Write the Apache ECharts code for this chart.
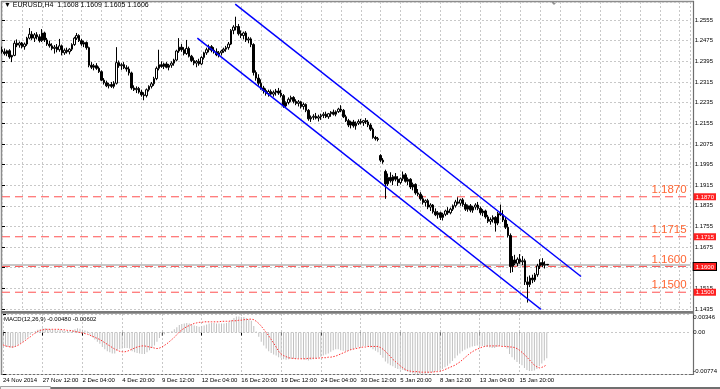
<!DOCTYPE html>
<html><head><meta charset="utf-8">
<script src="https://cdn.jsdelivr.net/npm/echarts@6/dist/echarts.min.js"></script>
<style>html,body{margin:0;padding:0;background:#fff}#c{width:720px;height:389px}</style>
</head><body><div id="c"></div>
<script>
// [open, high, low, close] per H4 bar
const bars = [
[1.2440,1.2452,1.2425,1.2432],[1.2432,1.2445,1.2418,1.2425],[1.2425,1.2440,1.2415,1.2436],[1.2436,1.2442,1.2405,1.2412],[1.2412,1.2420,1.2392,1.2418],
[1.2418,1.2475,1.2415,1.2465],[1.2465,1.2480,1.2450,1.2458],[1.2458,1.2472,1.2448,1.2466],[1.2466,1.2470,1.2445,1.2452],[1.2452,1.2468,1.2440,1.2462],
[1.2462,1.2490,1.2455,1.2485],[1.2485,1.2524,1.2480,1.2500],[1.2500,1.2512,1.2478,1.2485],[1.2485,1.2505,1.2470,1.2498],[1.2498,1.2508,1.2480,1.2490],
[1.2490,1.2500,1.2468,1.2475],[1.2475,1.2520,1.2470,1.2505],[1.2505,1.2510,1.2470,1.2478],[1.2478,1.2486,1.2455,1.2462],[1.2462,1.2475,1.2448,1.2455],
[1.2455,1.2465,1.2438,1.2445],[1.2445,1.2458,1.2425,1.2450],[1.2450,1.2462,1.2430,1.2440],[1.2440,1.2482,1.2432,1.2455],[1.2455,1.2460,1.2418,1.2428],
[1.2428,1.2445,1.2420,1.2438],[1.2438,1.2448,1.2425,1.2432],[1.2432,1.2446,1.2422,1.2442],[1.2442,1.2465,1.2435,1.2460],[1.2460,1.2490,1.2455,1.2485],
[1.2485,1.2505,1.2478,1.2495],[1.2495,1.2500,1.2470,1.2475],[1.2475,1.2482,1.2455,1.2462],[1.2462,1.2475,1.2450,1.2468],[1.2468,1.2472,1.2440,1.2448],
[1.2448,1.2452,1.2372,1.2380],[1.2380,1.2392,1.2365,1.2372],[1.2372,1.2385,1.2360,1.2378],[1.2378,1.2388,1.2362,1.2368],[1.2368,1.2375,1.2350,1.2355],
[1.2355,1.2360,1.2318,1.2322],[1.2322,1.2330,1.2305,1.2312],[1.2312,1.2320,1.2295,1.2300],[1.2300,1.2312,1.2290,1.2305],[1.2305,1.2315,1.2292,1.2298],
[1.2298,1.2318,1.2290,1.2310],[1.2310,1.2450,1.2305,1.2390],[1.2390,1.2398,1.2370,1.2378],[1.2378,1.2388,1.2362,1.2382],[1.2382,1.2392,1.2365,1.2370],
[1.2370,1.2380,1.2355,1.2365],[1.2365,1.2375,1.2340,1.2350],[1.2350,1.2355,1.2285,1.2292],[1.2292,1.2302,1.2280,1.2285],[1.2285,1.2298,1.2272,1.2290],
[1.2290,1.2296,1.2270,1.2276],[1.2276,1.2285,1.2258,1.2265],[1.2265,1.2275,1.2244,1.2262],[1.2262,1.2290,1.2255,1.2285],[1.2285,1.2302,1.2278,1.2298],
[1.2298,1.2315,1.2290,1.2308],[1.2308,1.2335,1.2300,1.2328],[1.2328,1.2375,1.2322,1.2368],[1.2368,1.2440,1.2360,1.2382],[1.2382,1.2395,1.2370,1.2375],
[1.2375,1.2390,1.2365,1.2385],[1.2385,1.2392,1.2368,1.2372],[1.2372,1.2385,1.2360,1.2380],[1.2380,1.2395,1.2370,1.2388],[1.2388,1.2405,1.2378,1.2400],
[1.2400,1.2440,1.2395,1.2435],[1.2435,1.2485,1.2428,1.2450],[1.2450,1.2462,1.2432,1.2440],[1.2440,1.2450,1.2418,1.2425],[1.2425,1.2478,1.2420,1.2445],
[1.2445,1.2452,1.2410,1.2415],[1.2415,1.2420,1.2392,1.2398],[1.2398,1.2410,1.2380,1.2388],[1.2388,1.2400,1.2372,1.2395],[1.2395,1.2405,1.2378,1.2385],
[1.2385,1.2415,1.2380,1.2410],[1.2410,1.2432,1.2402,1.2428],[1.2428,1.2448,1.2420,1.2440],[1.2440,1.2460,1.2430,1.2452],[1.2452,1.2458,1.2430,1.2438],
[1.2438,1.2450,1.2425,1.2432],[1.2432,1.2445,1.2415,1.2420],[1.2420,1.2435,1.2410,1.2428],[1.2428,1.2440,1.2418,1.2435],[1.2435,1.2448,1.2428,1.2442],
[1.2442,1.2455,1.2432,1.2448],[1.2448,1.2470,1.2440,1.2462],[1.2462,1.2520,1.2458,1.2515],[1.2515,1.2535,1.2500,1.2528],[1.2528,1.2568,1.2515,1.2530],
[1.2530,1.2540,1.2495,1.2502],[1.2502,1.2515,1.2485,1.2495],[1.2495,1.2510,1.2480,1.2505],[1.2505,1.2512,1.2470,1.2478],[1.2478,1.2490,1.2465,1.2482],
[1.2482,1.2488,1.2450,1.2460],[1.2460,1.2465,1.2340,1.2352],[1.2352,1.2360,1.2320,1.2330],[1.2330,1.2345,1.2300,1.2310],[1.2310,1.2325,1.2285,1.2292],
[1.2292,1.2300,1.2270,1.2282],[1.2282,1.2290,1.2262,1.2270],[1.2270,1.2285,1.2258,1.2278],[1.2278,1.2286,1.2262,1.2268],[1.2268,1.2282,1.2258,1.2275],
[1.2275,1.2288,1.2262,1.2280],[1.2280,1.2292,1.2265,1.2272],[1.2272,1.2285,1.2255,1.2262],[1.2262,1.2268,1.2215,1.2222],[1.2222,1.2240,1.2218,1.2235],
[1.2235,1.2255,1.2228,1.2248],[1.2248,1.2262,1.2238,1.2255],[1.2255,1.2260,1.2232,1.2240],[1.2240,1.2248,1.2225,1.2232],[1.2232,1.2245,1.2220,1.2238],
[1.2238,1.2242,1.2212,1.2220],[1.2220,1.2235,1.2208,1.2228],[1.2228,1.2232,1.2198,1.2205],[1.2205,1.2210,1.2165,1.2172],[1.2172,1.2185,1.2160,1.2178],
[1.2178,1.2190,1.2168,1.2182],[1.2182,1.2195,1.2170,1.2175],[1.2175,1.2188,1.2162,1.2180],[1.2180,1.2192,1.2168,1.2185],[1.2185,1.2198,1.2175,1.2190],
[1.2190,1.2200,1.2175,1.2180],[1.2180,1.2195,1.2172,1.2192],[1.2192,1.2202,1.2180,1.2198],[1.2198,1.2208,1.2185,1.2190],[1.2190,1.2205,1.2182,1.2200],
[1.2200,1.2215,1.2195,1.2210],[1.2210,1.2225,1.2198,1.2205],[1.2205,1.2210,1.2175,1.2180],[1.2180,1.2188,1.2160,1.2165],[1.2165,1.2172,1.2140,1.2148],
[1.2148,1.2165,1.2135,1.2160],[1.2160,1.2168,1.2138,1.2145],[1.2145,1.2162,1.2130,1.2155],[1.2155,1.2170,1.2148,1.2162],[1.2162,1.2172,1.2150,1.2158],
[1.2158,1.2168,1.2145,1.2165],[1.2165,1.2175,1.2152,1.2160],[1.2160,1.2168,1.2140,1.2148],[1.2148,1.2155,1.2125,1.2132],[1.2132,1.2138,1.2095,1.2100],
[1.2100,1.2106,1.2088,1.2095],[1.2095,1.2102,1.2085,1.2092],[1.2030,1.2035,1.2005,1.2012],[1.2012,1.2020,1.1998,1.2005],[1.1968,1.1975,1.1862,1.1920],
[1.1920,1.1960,1.1912,1.1945],[1.1945,1.1965,1.1925,1.1932],[1.1932,1.1955,1.1915,1.1948],[1.1948,1.1962,1.1930,1.1938],[1.1938,1.1950,1.1912,1.1925],
[1.1925,1.1945,1.1918,1.1940],[1.1940,1.1968,1.1932,1.1955],[1.1955,1.1962,1.1925,1.1930],[1.1930,1.1945,1.1915,1.1938],[1.1938,1.1942,1.1900,1.1908],
[1.1908,1.1925,1.1895,1.1918],[1.1918,1.1922,1.1878,1.1885],[1.1885,1.1900,1.1872,1.1880],[1.1880,1.1888,1.1855,1.1862],[1.1862,1.1875,1.1840,1.1848],
[1.1848,1.1860,1.1832,1.1855],[1.1855,1.1862,1.1822,1.1830],[1.1830,1.1845,1.1815,1.1838],[1.1838,1.1842,1.1805,1.1812],[1.1812,1.1825,1.1795,1.1800],
[1.1800,1.1815,1.1785,1.1808],[1.1808,1.1812,1.1780,1.1790],[1.1790,1.1808,1.1778,1.1802],[1.1802,1.1820,1.1795,1.1815],[1.1815,1.1830,1.1800,1.1808],
[1.1808,1.1828,1.1802,1.1822],[1.1822,1.1840,1.1815,1.1835],[1.1835,1.1858,1.1828,1.1850],[1.1850,1.1868,1.1840,1.1845],[1.1845,1.1862,1.1835,1.1858],
[1.1858,1.1865,1.1832,1.1840],[1.1840,1.1848,1.1815,1.1822],[1.1822,1.1840,1.1812,1.1835],[1.1835,1.1842,1.1810,1.1818],[1.1818,1.1835,1.1808,1.1830],
[1.1830,1.1845,1.1820,1.1838],[1.1838,1.1850,1.1818,1.1825],[1.1825,1.1832,1.1800,1.1808],[1.1808,1.1822,1.1795,1.1815],[1.1815,1.1820,1.1785,1.1792],
[1.1792,1.1800,1.1768,1.1775],[1.1775,1.1790,1.1762,1.1782],[1.1782,1.1798,1.1770,1.1790],[1.1790,1.1795,1.1735,1.1768],[1.1768,1.1812,1.1760,1.1805],
[1.1805,1.1840,1.1795,1.1800],[1.1800,1.1818,1.1772,1.1780],[1.1780,1.1792,1.1745,1.1752],[1.1752,1.1765,1.1712,1.1720],[1.1720,1.1728,1.1575,1.1600],
[1.1600,1.1640,1.1578,1.1625],[1.1625,1.1645,1.1605,1.1612],[1.1612,1.1635,1.1600,1.1628],[1.1628,1.1648,1.1610,1.1618],[1.1618,1.1640,1.1605,1.1622],
[1.1622,1.1630,1.1528,1.1540],[1.1540,1.1560,1.1460,1.1530],[1.1530,1.1565,1.1520,1.1555],[1.1555,1.1568,1.1535,1.1548],[1.1548,1.1575,1.1540,1.1568],
[1.1568,1.1610,1.1560,1.1602],[1.1602,1.1628,1.1590,1.1615],[1.1615,1.1632,1.1598,1.1605],[1.1605,1.1620,1.1592,1.1608],[1.1608,1.1609,1.1605,1.1606]
];
const macd = [
-0.0024,-0.0026,-0.0027,-0.0028,-0.0029,-0.0026,-0.0023,-0.0020,-0.0017,-0.0013,-0.0009,-0.0004,
0.0000,0.0003,0.0005,0.0006,0.0008,0.0008,0.0007,0.0006,0.0005,0.0005,0.0004,0.0005,0.0004,0.0003,0.0003,0.0003,0.0004,0.0006,0.0008,0.0007,
0.0005,0.0004,0.0002,-0.0004,-0.0009,-0.0013,-0.0017,-0.0021,
-0.0027,-0.0031,-0.0035,-0.0037,-0.0039,-0.0039,-0.0033,-0.0031,
-0.0030,-0.0029,-0.0029,-0.0030,-0.0035,-0.0037,-0.0038,-0.0039,-0.0040,-0.0040,-0.0037,-0.0033,-0.0029,-0.0024,-0.0017,-0.0010,
-0.0006,-0.0003,-0.0001,0.0001,0.0003,0.0006,0.0010,0.0014,
0.0016,0.0017,0.0018,0.0017,0.0015,0.0013,0.0012,0.0011,0.0012,0.0013,0.0015,0.0017,0.0018,0.0018,0.0017,0.0017,0.0017,0.0017,0.0018,0.0019,0.0023,0.0027,0.0030,0.0030,0.0029,0.0029,0.0027,0.0025,0.0022,
0.0012,0.0002,-0.0008,-0.0017,-0.0024,-0.0030,-0.0035,-0.0038,-0.0041,-0.0043,
-0.0046,-0.0047,-0.0050,-0.0051,-0.0050,-0.0049,-0.0049,-0.0049,-0.0048,-0.0049,-0.0050,-0.0051,-0.0052,-0.0051,-0.0050,-0.0049,-0.0047,-0.0045,-0.0043,-0.0041,-0.0039,-0.0036,-0.0033,-0.0031,-0.0031,-0.0033,-0.0034,-0.0035,-0.0034,-0.0033,-0.0031,-0.0029,
-0.0027,-0.0026,-0.0025,-0.0025,-0.0026,-0.0028,-0.0031,-0.0034,-0.0037,
-0.0042,-0.0047,-0.0054,-0.0058,-0.0061,-0.0063,-0.0066,-0.0068,
-0.0069,-0.0070,-0.0072,-0.0073,-0.0075,-0.0076,-0.0077,-0.0078,-0.0078,-0.0077,-0.0077,-0.0076,-0.0075,-0.0074,-0.0073,-0.0072,-0.0070,-0.0068,-0.0065,-0.0062,-0.0058,-0.0053,-0.0048,-0.0043,
-0.0039,-0.0035,-0.0032,-0.0030,-0.0028,-0.0026,-0.0025,-0.0024,-0.0025,-0.0025,-0.0026,-0.0027,-0.0028,-0.0029,-0.0029,-0.0027,-0.0025,-0.0025,-0.0026,-0.0030,
-0.0040,-0.0046,-0.0051,-0.0055,-0.0058,-0.0061,-0.0066,-0.0070,-0.0072,-0.0072,-0.0071,-0.0068,-0.0063,-0.0058,-0.0052,-0.0048
];
const signal = [
-0.0023,-0.0025,-0.0026,-0.0027,-0.0027,-0.0026,-0.0024,-0.0021,-0.0018,-0.0015,-0.0011,-0.0008,-0.0004,-0.0001,0.0002,0.0004,
0.0005,0.0006,0.0006,0.0006,0.0006,0.0006,0.0006,0.0006,0.0005,0.0005,0.0004,0.0004,0.0003,0.0002,0.0001,0.0000,
-0.0001,-0.0002,-0.0003,-0.0005,-0.0007,-0.0009,-0.0011,-0.0013,-0.0016,-0.0019,-0.0022,-0.0025,-0.0028,-0.0031,-0.0033,-0.0035,
-0.0036,-0.0036,-0.0035,-0.0033,-0.0031,-0.0029,-0.0027,-0.0026,-0.0025,-0.0025,-0.0026,-0.0027,-0.0028,-0.0029,-0.0030,-0.0029,
-0.0027,-0.0024,-0.0021,-0.0017,-0.0013,-0.0009,-0.0004,0.0001,0.0005,0.0008,0.0011,0.0013,0.0015,0.0017,0.0018,0.0019,
0.0019,0.0020,0.0020,0.0020,0.0020,0.0020,0.0020,0.0020,0.0021,0.0021,0.0021,0.0021,0.0022,0.0022,0.0022,0.0023,0.0023,0.0024,0.0024,0.0025,0.0025,0.0024,0.0021,0.0017,
0.0012,0.0006,0.0000,-0.0006,-0.0013,-0.0020,-0.0027,-0.0035,
-0.0040,-0.0043,-0.0045,-0.0047,-0.0048,-0.0048,-0.0049,-0.0049,-0.0049,-0.0049,-0.0049,-0.0048,
-0.0048,-0.0048,-0.0048,-0.0048,-0.0047,-0.0047,-0.0047,-0.0046,-0.0046,-0.0045,-0.0044,-0.0042,-0.0040,-0.0038,-0.0036,-0.0034,-0.0032,-0.0031,-0.0030,-0.0029,
-0.0028,-0.0027,-0.0027,-0.0026,-0.0026,-0.0026,-0.0026,-0.0026,-0.0028,-0.0031,-0.0035,-0.0040,-0.0045,-0.0050,-0.0054,-0.0058,
-0.0062,-0.0066,-0.0069,-0.0071,-0.0072,-0.0073,-0.0073,-0.0073,-0.0074,-0.0074,-0.0074,-0.0074,-0.0074,-0.0074,-0.0073,-0.0073,-0.0072,-0.0071,-0.0069,-0.0067,-0.0065,-0.0063,-0.0061,-0.0058,
-0.0055,-0.0051,-0.0047,-0.0043,-0.0039,-0.0036,-0.0033,-0.0031,-0.0029,-0.0027,-0.0026,-0.0025,-0.0025,-0.0025,-0.0025,-0.0025,-0.0025,-0.0026,-0.0026,-0.0026,
-0.0027,-0.0027,-0.0028,-0.0030,-0.0033,-0.0037,-0.0041,-0.0046,-0.0051,-0.0056,-0.0061,-0.0064,-0.0066,-0.0065,-0.0063,-0.0060
];
const xLabels = ['24 Nov 2014','27 Nov 12:00','2 Dec 04:00','4 Dec 20:00','9 Dec 12:00','12 Dec 04:00','16 Dec 20:00','19 Dec 12:00','24 Dec 04:00','30 Dec 12:00','5 Jan 20:00','8 Jan 12:00','13 Jan 04:00','15 Jan 20:00'];
const levels = [1.1870, 1.1715, 1.1600, 1.1500];
const bidPrice = 1.1606;
const upperChannel = [[93.6, 1.2617], [232.4, 1.1561]];
const lowerChannel = [[78.4, 1.2485], [216.4, 1.1433]];
const titleText = '▼ EURUSD,H4  1.1608 1.1609 1.1605 1.1606';
const macdTitle = 'MACD(12,26,9) -0.00480 -0.00602';
const priceMin = 1.1435, priceMax = 1.2625, priceStep = 0.008;
const macdMin = -0.00774, macdMax = 0.00346;

const FONT = 'Liberation Sans';
const XMAX = 276.4;
const chart = echarts.init(document.getElementById('c'), null, {renderer: 'canvas'});
const candleData = bars.map((b, i) => [i, b[0], b[3], b[2], b[1]]);
const macdData = macd.map((v, i) => [i, v]);
const sigData = signal.map((v, i) => [i, v]);
const labelTicks = xLabels.map((s, k) => k * 16);
const dotted = {show: true, lineStyle: {color: '#c8c8c8', type: [2, 2], width: 1}};
const smallText = {fontSize: 6, color: '#000', fontFamily: FONT};

const levelSeries = levels.map(v => ({
  type: 'line', xAxisIndex: 0, yAxisIndex: 0, data: [[0, v], [XMAX, v]], symbol: 'none', z: 2,
  silent: true, animation: false,
  lineStyle: {color: '#ff5050', type: [8, 5], width: 1},
  endLabel: {show: true, formatter: () => v.toFixed(4), color: '#ff6633', fontSize: 11.5, fontFamily: FONT,
    align: 'right', verticalAlign: 'bottom', distance: 0, offset: [-4, -1]}
}));

const option = {
  animation: false,
  backgroundColor: '#ffffff',
  title: [
    {text: titleText, left: 4, top: 2, padding: 0, textStyle: Object.assign({}, smallText, {fontSize: 7, fontWeight: 'normal'})},
    {text: macdTitle, left: 4, top: 316, padding: 0, textStyle: Object.assign({fontWeight: 'normal'}, smallText)}
  ],
  grid: [
    {left: 2, right: 27, top: 2, height: 307},
    {left: 2, right: 27, top: 314, height: 60}
  ],
  xAxis: [
    {type: 'value', gridIndex: 0, min: 0, max: XMAX, interval: 8,
     axisLine: {show: false}, axisTick: {show: false}, axisLabel: {show: false}, splitLine: dotted},
    {type: 'value', gridIndex: 1, min: 0, max: XMAX, interval: 8,
     axisLine: {show: false},
     axisTick: {show: true, customValues: labelTicks, length: 3, lineStyle: {color: '#000'}},
     axisLabel: Object.assign({show: true, customValues: labelTicks, align: 'left', margin: 3,
       formatter: v => xLabels[Math.round(v / 16)] || ''}, smallText),
     splitLine: dotted}
  ],
  yAxis: [
    {type: 'value', gridIndex: 0, position: 'right', min: priceMin, max: priceMax, interval: priceStep,
     axisLine: {show: false},
     axisTick: {show: true, length: 3, lineStyle: {color: '#000'}},
     axisLabel: Object.assign({show: true, margin: 4, showMaxLabel: false, showMinLabel: true,
       formatter: v => v.toFixed(4)}, smallText),
     splitLine: dotted},
    {type: 'value', gridIndex: 1, position: 'right', min: macdMin, max: macdMax, interval: -macdMin,
     axisLine: {show: false},
     axisTick: {show: true, length: 3, lineStyle: {color: '#000'}},
     axisLabel: Object.assign({show: true, margin: 4, showMaxLabel: true, showMinLabel: true,
       formatter: v => Math.abs(v) < 1e-9 ? '0.00' : (v < 0 ? '{lo|' + v.toFixed(5) + '}' : '{hi|' + v.toFixed(5) + '}'),
       rich: {lo: {fontSize: 6, fontFamily: FONT, padding: [0, 0, 5, 0]}, hi: {fontSize: 6, fontFamily: FONT, padding: [7, 0, 0, 0]}}
     }, smallText),
     splitLine: dotted},
    // red price boxes for the horizontal levels
    {type: 'value', gridIndex: 0, position: 'right', min: priceMin, max: priceMax,
     axisLine: {show: false}, axisTick: {show: false}, splitLine: {show: false},
     axisLabel: {show: true, margin: 3, customValues: levels,
       formatter: v => (Math.abs(v - 1.1600) < 1e-6 ? '{k|' : '{r|') + v.toFixed(4) + '}',
       rich: {
         r: {color: '#fff', backgroundColor: '#ff2020', padding: [1, 2, 0, 2], fontSize: 6, fontFamily: FONT},
         k: {color: '#fff', backgroundColor: '#ff2020', borderColor: '#000', borderWidth: 1, padding: [1, 2, 0, 2], fontSize: 6, fontFamily: FONT}
       }}}
  ],
  series: [
    {type: 'line', xAxisIndex: 0, yAxisIndex: 0, data: [[0, bidPrice], [XMAX, bidPrice]], symbol: 'none', z: 1,
     silent: true, lineStyle: {color: '#c8c8c8', width: 2}},
    ...levelSeries,
    {type: 'line', xAxisIndex: 0, yAxisIndex: 0, data: upperChannel, symbol: 'none', z: 4,
     lineStyle: {color: '#0000ff', width: 1.5}},
    {type: 'candlestick', xAxisIndex: 0, yAxisIndex: 0, data: candleData, encode: {x: 0, y: [1, 2, 3, 4]}, z: 3,
     barWidth: 2, itemStyle: {color: '#ffffff', color0: '#000000', borderColor: '#000000', borderColor0: '#000000', borderWidth: 1}},
    {type: 'line', xAxisIndex: 0, yAxisIndex: 0, data: lowerChannel, symbol: 'none', z: 4,
     lineStyle: {color: '#0000ff', width: 1.5}},
    {type: 'bar', xAxisIndex: 1, yAxisIndex: 1, data: macdData, barWidth: 1,
     itemStyle: {color: '#c0c0c0'}},
    {type: 'line', xAxisIndex: 1, yAxisIndex: 1, data: sigData, symbol: 'none',
     lineStyle: {color: '#ff3030', width: 1, type: [1.5, 1.5]}}
  ],
  graphic: [
    {type: 'line', shape: {x1: 1.5, y1: 1, x2: 1.5, y2: 375}, style: {stroke: '#8c8c8c', lineWidth: 1.5}, silent: true},
    {type: 'line', shape: {x1: 1, y1: 1.5, x2: 694, y2: 1.5}, style: {stroke: '#8c8c8c', lineWidth: 1.5}, silent: true},
    {type: 'line', shape: {x1: 693.5, y1: 1, x2: 693.5, y2: 375}, style: {stroke: '#6e6e6e', lineWidth: 1.2}, silent: true},
    {type: 'rect', shape: {x: 1, y: 311, width: 693, height: 2.7}, style: {fill: '#7a7a7a'}, silent: true},
    {type: 'line', shape: {x1: 1, y1: 374.5, x2: 694, y2: 374.5}, style: {stroke: '#6e6e6e', lineWidth: 1.2}, silent: true},
    {type: 'line', shape: {x1: 0, y1: 388, x2: 720, y2: 388}, style: {stroke: '#404040', lineWidth: 1.5}, silent: true},
    {type: 'rect', shape: {x: 0.5, y: 386.5, width: 50, height: 3}, style: {fill: '#f4f4f4', stroke: '#a0a0a0', lineWidth: 1}, silent: true},
    {type: 'polygon', shape: {points: [[551, 2], [557, 2], [554, 5]]}, style: {fill: '#909090'}, silent: true}
  ]
};
chart.setOption(option);
</script></body></html>
